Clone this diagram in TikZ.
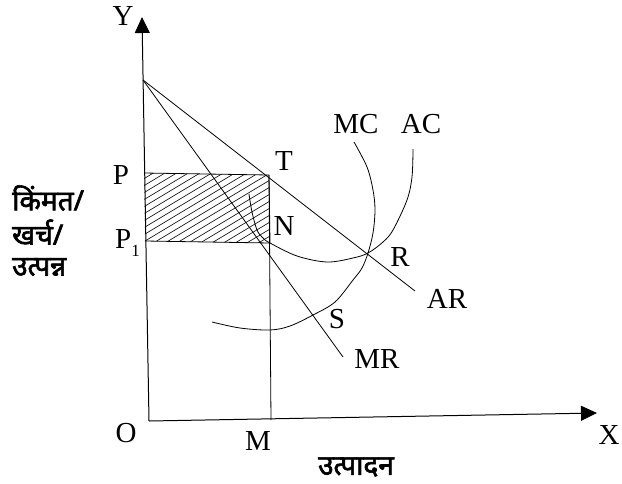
\documentclass[tikz,border=0pt]{standalone}
\usepackage{fontspec}
\setmainfont{Liberation Serif}
\newfontfamily\hindi[Script=Devanagari, AutoFakeBold=2.2]{Noto Sans}
\usetikzlibrary{arrows.meta}
\tikzset{
  lbl/.style={inner sep=0pt, font=\fontsize{29}{32}\selectfont},
  hlbl/.style={inner sep=0pt, anchor=west, font=\hindi\bfseries\fontsize{28}{30}\selectfont},
  thin line/.style={line width=0.8pt, black},
  axis/.style={line width=1pt, black, -{Triangle[length=16pt,width=15pt]}},
  curve/.style={line width=0.8pt, black, smooth, tension=0.55}
}
\begin{document}
\begin{tikzpicture}[x=1pt,y=-1pt]
\useasboundingbox (0,0) rectangle (622,483);
% key points
\coordinate (O) at (149,421);
\coordinate (Ytip) at (142,17);
\coordinate (Xtip) at (597,413);
\coordinate (A) at (143,80);
\coordinate (T) at (269,175);
\coordinate (Mpt) at (271,420);
\coordinate (ARend) at (415,291);
\coordinate (MRend) at (343,357);
\coordinate (TL) at (144,173);
\coordinate (BL) at (145,241);
\coordinate (BR) at (270,243);
% hatching
\begin{scope}
\clip (TL) -- (T) -- (BR) -- (BL) -- cycle;
\foreach \k in {0,...,24}{
  \draw[line width=0.6pt] (130,{166+7*\k}) -- (290,{166+7*\k-96});
}
\end{scope}
\draw[thin line] (TL) -- (T) -- (BR) -- (BL);
% axes
\draw[axis] (O) -- (Ytip);
\draw[axis] (O) -- (Xtip);
% vertical T-M
\draw[thin line] (T) -- (Mpt);
% AR and MR
\draw[thin line] (A) -- (ARend);
\draw[thin line] (A) -- (MRend);
% MC curve
\draw[curve] plot coordinates {(354,142) (367,167) (373,190) (375,210) (373,233) (368,253) (362,268) (353,280) (335,302) (313,315) (290,326) (270,330) (240,328) (212,322)};
% AC curve
\draw[curve] plot coordinates {(249,194) (252,212) (257,230) (263,238) (270,243) (297,256) (327,262) (353,258) (368,253) (383,242) (393,230) (407,200) (412,177) (413,149)};
% labels
\node[lbl] (lY) at (123,16) {Y};
\node[lbl] (lX) at (609,435) {X};
\node[lbl] (lO) at (126,433) {O};
\node[lbl] (lM) at (258,441) {M};
\node[lbl] (lP) at (121,175) {P};
\node[lbl, anchor=base west] (lP1) at (115,248) {P\raisebox{-0.28em}{\fontsize{17}{17}\selectfont 1}};
\node[lbl] (lT) at (284,161) {T};
\node[lbl] (lN) at (284,226) {N};
\node[lbl] (lR) at (400,257) {R};
\node[lbl] (lAR) at (447,299) {AR};
\node[lbl] (lS) at (337,319) {S};
\node[lbl] (lMR) at (377,359) {MR};
\node[lbl] (lMC) at (356,124) {MC};
\node[lbl] (lAC) at (421,124) {AC};
% Hindi labels
\node[hlbl] (h1) at (12,198) {किंमत/};
\node[hlbl] (h2) at (12,232) {खर्च/};
\node[hlbl] (h3) at (12,267) {उत्पन्न};
\node[hlbl, anchor=center] (h4) at (356,467) {उत्पादन};
\end{tikzpicture}
\end{document}
